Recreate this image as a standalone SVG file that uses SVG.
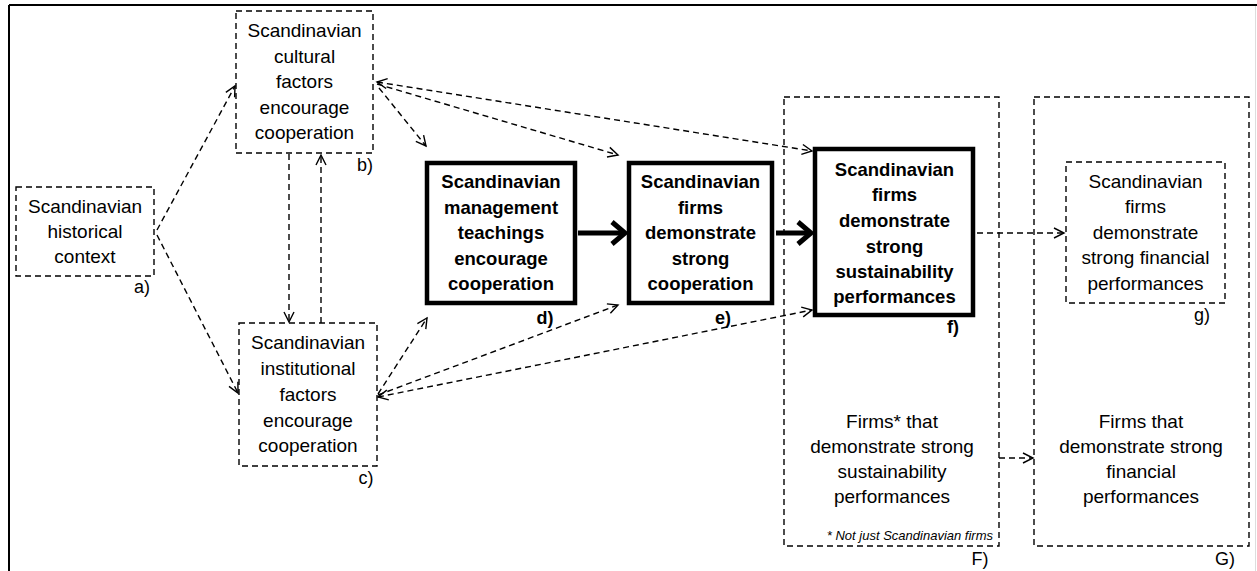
<svg xmlns="http://www.w3.org/2000/svg" width="1257" height="571" viewBox="0 0 1257 571">
<style>
.dbox{fill:none;stroke:#000;stroke-width:1.4;stroke-dasharray:6 4}
.bbox{fill:#fff;stroke:#000;stroke-width:4.5}
.t{font-family:"Liberation Sans",Arial,sans-serif;font-size:19px;text-anchor:middle;fill:#000}
.tb{font-family:"Liberation Sans",Arial,sans-serif;font-size:18.5px;font-weight:bold;text-anchor:middle;fill:#000}
.lab{font-family:"Liberation Sans",Arial,sans-serif;font-size:18px;text-anchor:middle;fill:#000}
.labb{font-family:"Liberation Sans",Arial,sans-serif;font-size:18px;font-weight:bold;text-anchor:middle;fill:#000}
.note{font-family:"Liberation Sans",Arial,sans-serif;font-size:13px;font-style:italic;text-anchor:end;fill:#000}
.dl{fill:none;stroke:#000;stroke-width:1.4;stroke-dasharray:6 4;marker-end:url(#ah)}
.tl{fill:none;stroke:#000;stroke-width:5;marker-end:url(#tah)}
</style>
<defs>
<marker id="ah" markerUnits="userSpaceOnUse" viewBox="-2 -2 14 14" refX="10" refY="5" markerWidth="14" markerHeight="14" orient="auto-start-reverse">
<path d="M0,0 L10,5 L0,10" fill="none" stroke="#000" stroke-width="1.4"/>
</marker>
<marker id="tah" markerUnits="userSpaceOnUse" viewBox="-4 -4 22 30" refX="13" refY="11" markerWidth="22" markerHeight="30" orient="auto" overflow="visible">
<path d="M0,0 L13,11 L0,22" fill="none" stroke="#000" stroke-width="5" stroke-linejoin="miter"/>
</marker>
</defs>
<rect x="0" y="0" width="1257" height="571" fill="#fff"/>
<g id="frame">
<line x1="9" y1="5" x2="1257" y2="5" stroke="#000" stroke-width="2"/>
<line x1="9" y1="5" x2="9" y2="571" stroke="#000" stroke-width="2"/>
<line x1="1255.5" y1="6" x2="1255.5" y2="571" stroke="#ddd" stroke-width="1"/>
</g>
<g id="boxF">
<rect class="dbox" x="784" y="97" width="215" height="449"/>
<text class="t" x="892" y="428">Firms* that</text>
<text class="t" x="892" y="453">demonstrate strong</text>
<text class="t" x="892" y="478">sustainability</text>
<text class="t" x="892" y="503">performances</text>
<text class="note" x="993" y="540">* Not just Scandinavian firms</text>
<text class="lab" x="980" y="565">F)</text>
</g>
<g id="boxG">
<rect class="dbox" x="1034" y="97" width="215" height="449"/>
<text class="t" x="1141" y="428">Firms that</text>
<text class="t" x="1141" y="453">demonstrate strong</text>
<text class="t" x="1141" y="478">financial</text>
<text class="t" x="1141" y="503">performances</text>
<text class="lab" x="1225" y="565">G)</text>
</g>
<g id="connectors">
<path class="dl" d="M157,230 L235,86"/>
<path class="dl" d="M157,235 L238,393"/>
<path class="dl" d="M289,154 L289,322"/>
<path class="dl" d="M321,323 L321,155"/>
<path class="dl" d="M379,88 L426,146"/>
<path class="dl" d="M377,84 L618,155"/>
<path class="dl" d="M377,82 L812,151" marker-start="url(#ah)"/>
<path class="dl" d="M378,394 L427,318"/>
<path class="dl" d="M378,395 L618,305"/>
<path class="dl" d="M378,397 L812,310" marker-start="url(#ah)"/>
<path class="dl" d="M977,233 L1064,233"/>
<path class="dl" d="M999,458 L1033,458"/>
<path class="tl" d="M578,233 L625,233"/>
<path class="tl" d="M776,233 L811,233"/>
</g>
<g id="node-a">
<rect class="dbox" x="16" y="187" width="138" height="89"/>
<text class="t" x="85" y="213">Scandinavian</text>
<text class="t" x="85" y="238">historical</text>
<text class="t" x="85" y="263">context</text>
<text class="lab" x="142" y="293">a)</text>
</g>
<g id="node-b">
<rect class="dbox" x="236" y="11" width="137" height="142"/>
<text class="t" x="304.5" y="37">Scandinavian</text>
<text class="t" x="304.5" y="63">cultural</text>
<text class="t" x="304.5" y="88">factors</text>
<text class="t" x="304.5" y="114">encourage</text>
<text class="t" x="304.5" y="139">cooperation</text>
<text class="lab" x="365" y="171">b)</text>
</g>
<g id="node-c">
<rect class="dbox" x="239" y="323" width="138" height="143"/>
<text class="t" x="308" y="349">Scandinavian</text>
<text class="t" x="308" y="375">institutional</text>
<text class="t" x="308" y="401">factors</text>
<text class="t" x="308" y="427">encourage</text>
<text class="t" x="308" y="452">cooperation</text>
<text class="lab" x="366" y="484">c)</text>
</g>
<g id="node-d">
<rect class="bbox" x="427" y="163" width="148" height="140"/>
<text class="tb" x="501" y="188">Scandinavian</text>
<text class="tb" x="501" y="214">management</text>
<text class="tb" x="501" y="239">teachings</text>
<text class="tb" x="501" y="265">encourage</text>
<text class="tb" x="501" y="290">cooperation</text>
<text class="labb" x="545" y="324">d)</text>
</g>
<g id="node-e">
<rect class="bbox" x="629" y="163" width="143" height="140"/>
<text class="tb" x="700.5" y="188">Scandinavian</text>
<text class="tb" x="700.5" y="214">firms</text>
<text class="tb" x="700.5" y="239">demonstrate</text>
<text class="tb" x="700.5" y="265">strong</text>
<text class="tb" x="700.5" y="290">cooperation</text>
<text class="labb" x="723" y="324">e)</text>
</g>
<g id="node-f">
<rect class="bbox" x="815" y="149" width="158" height="166"/>
<text class="tb" x="894.5" y="176">Scandinavian</text>
<text class="tb" x="894.5" y="201">firms</text>
<text class="tb" x="894.5" y="227">demonstrate</text>
<text class="tb" x="894.5" y="253">strong</text>
<text class="tb" x="894.5" y="278">sustainability</text>
<text class="tb" x="894.5" y="303">performances</text>
<text class="labb" x="953" y="333">f)</text>
</g>
<g id="node-g">
<rect class="dbox" x="1066" y="162" width="159" height="141"/>
<text class="t" x="1145.5" y="188">Scandinavian</text>
<text class="t" x="1145.5" y="213">firms</text>
<text class="t" x="1145.5" y="239">demonstrate</text>
<text class="t" x="1145.5" y="264">strong financial</text>
<text class="t" x="1145.5" y="290">performances</text>
<text class="lab" x="1202" y="321">g)</text>
</g>
</svg>
